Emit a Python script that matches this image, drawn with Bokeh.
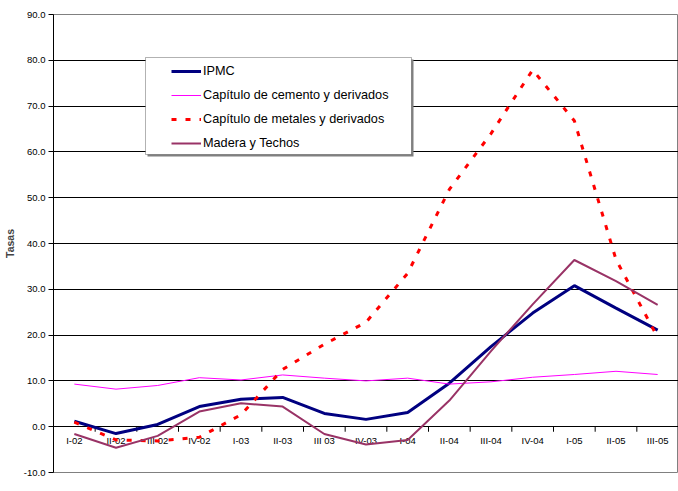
from bokeh.plotting import figure
from bokeh.models import (FactorRange, Range1d, Legend, LegendItem, BoxAnnotation,
                          Label, SingleIntervalTicker, PrintfTickFormatter, ColumnDataSource)
from bokeh.transform import dodge
from bokeh.embed import file_html
from bokeh.resources import INLINE

# Quarterly growth rates (%)
quarters = ["I-02", "II-02", "III 02", "IV-02", "I-03", "II-03", "III 03", "IV-03",
            "I-04", "II-04", "III-04", "IV-04", "I-05", "II-05", "III-05"]
ipmc = [1.2, -1.5, 0.5, 4.4, 6.0, 6.4, 2.9, 1.6, 3.1, 9.5, 17.5, 24.8, 30.8, 25.9, 21.1]
cemento = [9.3, 8.2, 9.0, 10.7, 10.2, 11.3, 10.6, 10.0, 10.6, 9.3, 9.8, 10.8, 11.4, 12.1, 11.4]
metales = [1.0, -2.9, -3.1, -2.3, 2.6, 12.5, 18.0, 22.8, 33.5, 51.8, 64.0, 77.9, 66.8, 36.5, 19.5]
madera = [-1.6, -4.6, -2.0, 3.3, 5.1, 4.4, -1.6, -3.9, -2.9, 5.7, 16.5, 26.7, 36.4, 31.8, 26.6]

labels = ["IPMC", "Capítulo de cemento y derivados",
          "Capítulo de metales y derivados", "Madera y Techos"]

FONT = "Liberation Sans"

p = figure(width=678, height=491, x_range=FactorRange(*quarters),
           y_range=Range1d(-10, 90), output_backend="svg", toolbar_location=None,
           min_border_left=52, min_border_right=0, min_border_top=14,
           min_border_bottom=19)
p.background_fill_color = "white"
p.border_fill_color = "white"
p.outline_line_color = "#808080"
p.outline_line_width = 1

# value axis
yticker = SingleIntervalTicker(interval=10)
p.yaxis.ticker = yticker
p.yaxis.formatter = PrintfTickFormatter(format="%.1f")
p.yaxis.axis_label = "Tasas"
p.yaxis.axis_label_text_font = FONT
p.yaxis.axis_label_text_font_style = "bold"
p.yaxis.axis_label_text_font_size = "10.5px"
p.yaxis.axis_label_standoff = 5
p.yaxis.major_label_text_font = FONT
p.yaxis.major_label_text_font_size = "9.5px"
p.yaxis.major_label_text_color = "black"
p.yaxis.major_label_standoff = 3
p.yaxis.major_tick_out = 5
p.yaxis.major_tick_in = 0
p.yaxis.minor_tick_line_color = None
p.yaxis.axis_line_color = "black"
p.yaxis.major_tick_line_color = "black"

# category axis crossing at zero
p.xaxis.fixed_location = 0
p.xaxis.level = "underlay"
p.xaxis.axis_line_color = "black"
p.xaxis.major_tick_line_color = None
p.xaxis.major_tick_out = 0
p.xaxis.major_tick_in = 0
p.xaxis.major_label_standoff = 8
p.xaxis.major_label_text_font = FONT
p.xaxis.major_label_text_font_size = "9.5px"
p.xaxis.major_label_text_color = "black"

p.xgrid.visible = False
p.ygrid.ticker = yticker
p.ygrid.grid_line_color = "black"
p.ygrid.grid_line_width = 1

# tick marks between categories, hanging below the zero line
ticks = ColumnDataSource(dict(q=quarters[:-1], y0=[0] * (len(quarters) - 1),
                              y1=[-1.1] * (len(quarters) - 1)))
p.segment(x0=dodge("q", 0.5, range=p.x_range), x1=dodge("q", 0.5, range=p.x_range),
          y0="y0", y1="y1", source=ticks, line_color="black", line_width=1)

r_ipmc = p.line(quarters, ipmc, line_color="#000080", line_width=3)
r_cem = p.line(quarters, cemento, line_color="#FF00FF", line_width=1)
r_met = p.line(quarters, metales, line_color="#FF0000", line_width=3, line_dash="5 9")
r_mad = p.line(quarters, madera, line_color="#993366", line_width=2)

# legend frame with shadow
shadow = BoxAnnotation(left=147, right=413, top=59, bottom=156,
                       left_units="canvas", right_units="canvas",
                       top_units="canvas", bottom_units="canvas",
                       fill_color="#808080", fill_alpha=1, line_alpha=0)
frame = BoxAnnotation(left=145, right=411, top=57, bottom=154,
                      left_units="canvas", right_units="canvas",
                      top_units="canvas", bottom_units="canvas",
                      fill_color="white", fill_alpha=1,
                      line_color="black", line_width=1)
p.add_layout(shadow)
p.add_layout(frame)

legend = Legend(items=[LegendItem(label=l, renderers=[r]) for l, r in
                       zip(labels, [r_ipmc, r_cem, r_met, r_mad])],
                location=(118, 319), padding=0, margin=0, spacing=4,
                label_height=20, glyph_height=20, glyph_width=30,
                label_standoff=2, border_line_alpha=0, background_fill_alpha=0,
                label_text_font=FONT, label_text_font_size="12.7px",
                label_text_color="black")
p.add_layout(legend)

p.add_layout(Label(x=351, y=-1.5, x_units="canvas", y_units="canvas",
                   text="(Tasas de variación en por ciento)", text_align="center",
                   text_baseline="alphabetic", text_font=FONT,
                   text_font_style="bold", text_font_size="12px"))
p.add_layout(Label(x=365, y=485, x_units="canvas", y_units="canvas",
                   text="Trimestres", text_align="center", text_baseline="top",
                   text_font=FONT, text_font_style="bold", text_font_size="10.5px"))

open("out.html", "w").write(file_html(p, INLINE))
